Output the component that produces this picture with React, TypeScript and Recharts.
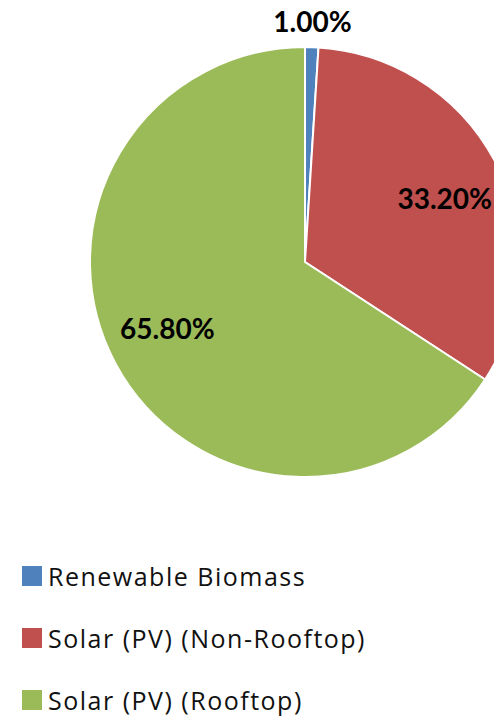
import React from "react";
import { PieChart, Pie, Cell, Legend } from "recharts";

const categories = ["Renewable Biomass", "Solar (PV) (Non-Rooftop)", "Solar (PV) (Rooftop)"];
const shares = [1.0, 33.2, 65.8];
const colors = ["#4F81BD", "#C0504D", "#9BBB59"];

const data = categories.map((name, i) => ({ name, value: shares[i] }));

const RAD = Math.PI / 180;
const LABEL_SIZE = 28;

const renderLabel = (props: any) => {
  const { cx, cy, midAngle, outerRadius, percent, value } = props;
  const outside = percent < 0.05;
  const r = outside ? outerRadius + 25 : outerRadius * 0.712;
  const a = outside ? midAngle : midAngle - 2.5;
  const x = cx + r * Math.cos(-a * RAD);
  const y = cy + r * Math.sin(-a * RAD) + 0.36 * LABEL_SIZE;
  return (
    <text
      x={x}
      y={y}
      textAnchor="middle"
      fontFamily="Lato, 'Open Sans', sans-serif"
      fontWeight={700}
      fontSize={LABEL_SIZE}
      fill="#000"
    >
      {`${Number(value).toFixed(2)}%`}
    </text>
  );
};

const renderLegend = (props: any) => {
  const { payload } = props;
  return (
    <div style={{ fontFamily: "'Open Sans', sans-serif" }}>
      {payload.map((entry: any, i: number) => (
        <div
          key={i}
          style={{ height: 62, display: "flex", alignItems: "center" }}
        >
          <span
            style={{
              display: "inline-block",
              width: 20,
              height: 20,
              background: entry.color,
              marginRight: 6,
            }}
          />
          <span
            style={{
              fontSize: 25,
              color: "#111",
              lineHeight: "30px",
              letterSpacing: "1.5px",
            }}
          >
            {entry.value}
          </span>
        </div>
      ))}
    </div>
  );
};

export default function App() {
  return (
    <div style={{ marginTop: -8, width: 494, height: 719 }}>
      <PieChart width={494} height={719} margin={{ top: 0, right: 0, bottom: 0, left: 0 }}>
        <Pie
          data={data}
          dataKey="value"
          nameKey="name"
          cx={297}
          cy={262}
          outerRadius={215}
          startAngle={90}
          endAngle={-270}
          stroke="#fff"
          strokeWidth={2}
          label={renderLabel}
          labelLine={false}
          isAnimationActive={false}
        >
          {data.map((d, i) => (
            <Cell key={d.name} fill={colors[i]} />
          ))}
        </Pie>
        <Legend
          content={renderLegend}
          wrapperStyle={{ position: "absolute", top: 545, left: 14, width: 480 }}
        />
      </PieChart>
    </div>
  );
}
